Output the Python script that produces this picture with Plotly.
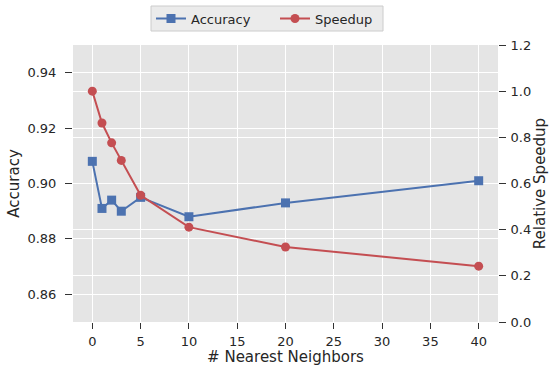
import plotly.graph_objects as go

neighbors = [0, 1, 2, 3, 5, 10, 20, 40]
accuracy = [0.908, 0.891, 0.894, 0.890, 0.895, 0.888, 0.893, 0.901]
speedup = [1.0, 0.862, 0.776, 0.700, 0.549, 0.411, 0.325, 0.242]

x_ticks = [0, 5, 10, 15, 20, 25, 30, 35, 40]
acc_ticks = [0.86, 0.88, 0.90, 0.92, 0.94]
spd_ticks = [0.0, 0.2, 0.4, 0.6, 0.8, 1.0, 1.2]

BLUE = "#4c72b0"
RED = "#c44e52"
TXT = "#262626"
FONT = "DejaVu Sans"
W, H = 549, 366
ML, MR, MT, MB = 73, 51, 45, 44

fig = go.Figure()
fig.add_trace(go.Scatter(x=neighbors, y=accuracy, name="Accuracy", mode="lines+markers",
                         line=dict(color=BLUE, width=2),
                         marker=dict(symbol="square", size=9, color=BLUE), yaxis="y", legend="legend"))
fig.add_trace(go.Scatter(x=neighbors, y=speedup, name="Speedup", mode="lines+markers",
                         line=dict(color=RED, width=2),
                         marker=dict(symbol="circle", size=9, color=RED), yaxis="y2", legend="legend2"))

axis_common = dict(showline=False, zeroline=False, ticks="outside", tickwidth=1,
                   tickcolor="#333333", gridcolor="white", gridwidth=1.2, automargin=False,
                   tickfont=dict(family=FONT, size=13, color=TXT))
title_font = dict(family=FONT, size=15, color=TXT)
leg_common = dict(orientation="h", xref="container", yref="container", xanchor="left",
                  yanchor="middle", y=1 - 18.5 / H, bgcolor="rgba(0,0,0,0)", borderwidth=0,
                  font=dict(family=FONT, size=13, color=TXT))

pw, ph = W - ML - MR, H - MT - MB
def px_x(p):
    return (p - ML) / pw
def px_y(p):
    return (H - MB - p) / ph

fig.update_layout(
    width=W, height=H,
    margin=dict(l=ML, r=MR, t=MT, b=MB, autoexpand=False),
    paper_bgcolor="white", plot_bgcolor="#e5e5e5",
    font=dict(family=FONT, color=TXT),
    showlegend=True,
    legend=dict(x=151 / W, **leg_common),
    legend2=dict(x=275 / W, **leg_common),
    shapes=[dict(type="rect", xref="paper", yref="paper",
                 x0=px_x(151), x1=px_x(383), y0=px_y(31), y1=px_y(6),
                 fillcolor="#ebebeb", line=dict(color="#cccccc", width=1), layer="below")],
    xaxis=dict(range=[-2, 42], tickvals=x_ticks, ticklen=6, ticklabelstandoff=1, **axis_common,
               title=dict(text="# Nearest Neighbors", font=title_font, standoff=4)),
    yaxis=dict(range=[0.85, 0.95], tickvals=acc_ticks, tickformat=".2f", ticklen=7,
               ticklabelstandoff=6, **axis_common,
               title=dict(text="Accuracy", font=title_font, standoff=4)),
    yaxis2=dict(range=[0, 1.2], tickvals=spd_ticks, tickformat=".1f", overlaying="y", side="right",
                ticklen=7, ticklabelstandoff=2, **axis_common,
                title=dict(text="Relative Speedup", font=title_font, standoff=8)),
)

fig.write_html("out.html", config={"displayModeBar": False},
               post_script="document.body.style.margin='0';")
